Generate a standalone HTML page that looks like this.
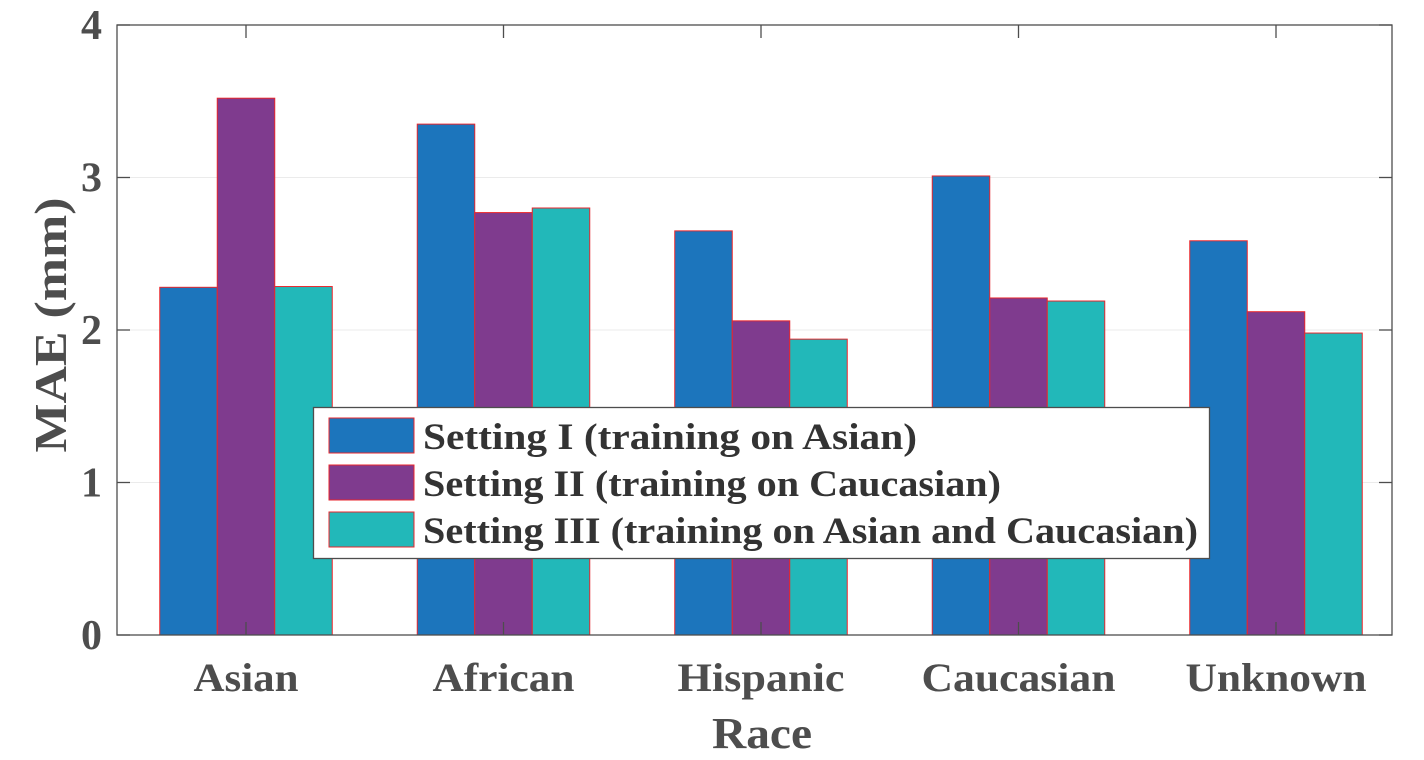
<!DOCTYPE html>
<html><head><meta charset="utf-8"><style>
body{margin:0;background:#fff;width:1424px;height:755px;overflow:hidden}
text{font-family:"Liberation Serif",serif;font-weight:bold}
</style></head><body>
<svg id="chart" width="1424" height="755" xmlns="http://www.w3.org/2000/svg"></svg>
<script>
const categories=["Asian","African","Hispanic","Caucasian","Unknown"];
const seriesNames=["Setting I (training on Asian)","Setting II (training on Caucasian)","Setting III (training on Asian and Caucasian)"];
const settingI=[2.28,3.35,2.65,3.01,2.585];
const settingII=[3.52,2.77,2.06,2.21,2.12];
const settingIII=[2.285,2.80,1.94,2.19,1.98];
const yTicks=[0,1,2,3,4];
const colors=["#1c75bc","#7f3b8e","#22b8b9"];
const series=[settingI,settingII,settingIII];
const L=117,R=1392,T=25,B=635;
const NS="http://www.w3.org/2000/svg";
const svg=document.getElementById('chart');
function y(v){return B-(v/4)*(B-T);}
const gStep=257.5, c0=246;
function xc(i){return c0+i*gStep;}
const bw=57.5;
const catW=[105,142,167,194,181];
const legW=[494,578,775];
function mk(tag,a,p){const e=document.createElementNS(NS,tag);for(const k in a)e.setAttribute(k,a[k]);(p||svg).appendChild(e);return e;}
yTicks.forEach(t=>{if(t>0&&t<4){const g=mk('line',{x1:L,x2:R,y1:y(t),y2:y(t),stroke:'#ebebeb','stroke-width':1});

}});
series.forEach((s,si)=>{s.forEach((v,i)=>{const x=xc(i)+(si-1.5)*bw;
const r=mk('rect',{x:x,y:y(v),width:bw,height:B-y(v),fill:colors[si],stroke:'#e8262c','stroke-width':1});

});});
const box=mk('rect',{x:L,y:T,width:R-L,height:B-T,fill:'none',stroke:'#4d4d4d','stroke-width':1.3});


yTicks.forEach(t=>{mk('line',{x1:L,x2:L+13,y1:y(t),y2:y(t),stroke:'#4d4d4d','stroke-width':1.3});mk('line',{x1:R,x2:R-13,y1:y(t),y2:y(t),stroke:'#4d4d4d','stroke-width':1.3});
const tx=mk('text',{x:L-15,y:y(t)+14,'text-anchor':'end','font-size':42,fill:'#4d4d4d'});tx.textContent=t;

});
categories.forEach((c,i)=>{mk('line',{x1:xc(i),x2:xc(i),y1:B,y2:B-13,stroke:'#4d4d4d','stroke-width':1.3});mk('line',{x1:xc(i),x2:xc(i),y1:T,y2:T+13,stroke:'#4d4d4d','stroke-width':1.3});
const tx=mk('text',{x:xc(i),y:691,'text-anchor':'middle','font-size':40,fill:'#4d4d4d',textLength:catW[i],lengthAdjust:'spacingAndGlyphs'});tx.textContent=c;

});
const xt=mk('text',{x:762,y:748,'text-anchor':'middle','font-size':44,fill:'#4d4d4d',textLength:100,lengthAdjust:'spacingAndGlyphs'});xt.textContent='Race';


const yt=mk('text',{x:0,y:0,transform:'translate(66,325) rotate(-90)','text-anchor':'middle','font-size':46,fill:'#4d4d4d',textLength:255,lengthAdjust:'spacingAndGlyphs'});yt.textContent='MAE (mm)';


const lg=mk('g',{});


mk('rect',{x:313.5,y:407.5,width:896,height:151,fill:'#fff',stroke:'#4d4d4d','stroke-width':1.3},lg);
seriesNames.forEach((n,i)=>{const yy=418+i*47;
const sw=mk('rect',{x:329,y:yy,width:85,height:35,fill:colors[i],stroke:'#e8262c','stroke-width':1},lg);


const t=mk('text',{x:423,y:yy+31,'font-size':37,fill:'#333',textLength:legW[i],lengthAdjust:'spacingAndGlyphs'},lg);t.textContent=n;

});
</script>
</body></html>
